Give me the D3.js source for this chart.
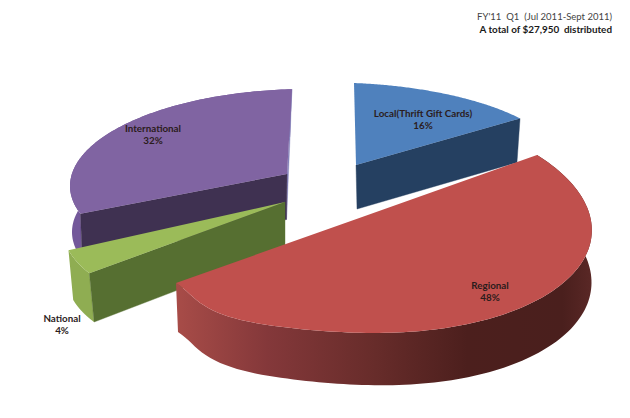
<!DOCTYPE html>
<html><head><meta charset="utf-8">
<script src="https://cdnjs.cloudflare.com/ajax/libs/d3/7.8.5/d3.min.js"></script>
<style>html,body{margin:0;padding:0;background:#fff}svg{display:block}</style></head>
<body><div id="chart"></div>
<script>
// data
const categories = ["Local (Thrift Gift Cards)", "Regional", "National", "International"];
const shortNames = ["Local(Thrift Gift Cards)", "Regional", "National", "International"];
const percents = [16, 48, 4, 32];
const titleLines = ["FY'11  Q1  (Jul 2011-Sept 2011)", "A total of $27,950  distributed"];

// per-slice projection of the pie disc (exploded, perspective-looking 3D pie).
// c/a/b: ellipse centre and conjugate axes; apex: where the slice tip lands;
// sweep: phase range on the ellipse that the pie's slice angle range is mapped to.
const PI = Math.PI;
const frames = [
  {sweep:[0,0.944],
   top:{apex:[356,165],c:[354,153],a:[205,8],b:[0,70]},
   bot:{apex:[357,209],c:[355,197],a:[200,8],b:[0,70]}},
  {sweep:[PI/2,3*PI/2], warp:{from:PI,to:3*PI/2,amount:-0.065,power:3},
   top:{apex:[356.5,219],c:[356.5,219],a:[180.5,-64],b:[151,94]},
   bot:{apex:[357,268],c:[357,268],a:[179,-64],b:[151.5,98]}},
  {sweep:null,
   top:{apex:[285,202],c:[285,202],a:[220,-1.5],b:[-41,110]},
   bot:{apex:[285,249],c:[285,249],a:[216,-5.6],b:[-38.4,107.8]}},
  {sweep:[4.41,6.248],
   top:{apex:[287,174],c:[300,183],a:[230,-3],b:[0,94]},
   bot:{apex:[286.5,219.5],c:[298,229],a:[226,-3],b:[0,92]}}
];
const looks = [
  {top:"#4f81bd", cutEnd:"#254061"},
  {top:"#c0504d", outer:"url(#redWall)"},
  {top:"#9bbb59", cutStart:"#566f31", outer:"#8fad52"},
  {top:"#8064a2", cutStart:"#3f3151", cutEnd:"#8583bb", outer:"#73589a"}
];
const labelAt = [[423,113],[490,285],[62,318],[153,128]];
const order = [3,0,2,1];

const W = 630, H = 418;
const svg = d3.select("#chart").append("svg").attr("width",W).attr("height",H);
const grad = svg.append("defs").append("linearGradient").attr("id","redWall")
  .attr("gradientUnits","userSpaceOnUse").attr("x1",176).attr("x2",592).attr("y1",0).attr("y2",0);
[[0,"#a84c48"],[0.22,"#84383a"],[0.48,"#672c2a"],[0.7,"#4c1f1d"],[0.93,"#4a1f1d"],[1,"#5a2826"]]
  .forEach(s=>grad.append("stop").attr("offset",s[0]).attr("stop-color",s[1]));

const arcs = d3.pie().sort(null).value(d=>d)(percents);
const line = d3.line();

function project(f, plane, d, frac){
  const p=f[plane];
  const t0=f.sweep?f.sweep[0]:d.startAngle, t1=f.sweep?f.sweep[1]:d.endAngle;
  const t=t0+(t1-t0)*frac;
  const ux=Math.sin(t), uy=-Math.cos(t);
  let m=1;
  if(f.warp && t>f.warp.from && t<f.warp.to){
    const x=(t-f.warp.from)/(f.warp.to-f.warp.from);
    const s=Math.sin(PI*Math.pow(x,f.warp.power));
    m=1-f.warp.amount*s*s;
  }
  return [p.c[0]+m*(p.a[0]*ux+p.b[0]*uy), p.c[1]+m*(p.a[1]*ux+p.b[1]*uy)];
}
const rim = (f,plane,d)=>d3.range(0,121).map(i=>project(f,plane,d,i/120));

order.forEach(i=>{
  const d=arcs[i], f=frames[i], s=looks[i];
  const g=svg.append("g").attr("class","slice").attr("data-name",categories[i]);
  const topRim=rim(f,"top",d), botRim=rim(f,"bot",d);
  const cut=(frac,col)=>g.append("path").attr("fill",col).attr("stroke",col).attr("stroke-width",0.4)
    .attr("d",line([f.top.apex,project(f,"top",d,frac),project(f,"bot",d,frac),f.bot.apex])+"Z");
  if(s.outer) g.append("path").attr("fill",s.outer).attr("d",line(topRim.concat(botRim.slice().reverse()))+"Z");
  if(s.cutEnd) cut(1,s.cutEnd);
  if(s.cutStart) cut(0,s.cutStart);
  g.append("path").attr("fill",s.top).attr("d",line([f.top.apex].concat(topRim))+"Z");
});

const font="Lato,'Liberation Sans',Arial,sans-serif";
shortNames.forEach((n,i)=>{
  const t=svg.append("text").attr("font-family",font).attr("font-size",9.8).attr("font-weight","bold")
    .attr("fill","#2b1c1c").attr("text-anchor","middle");
  t.append("tspan").attr("x",labelAt[i][0]).attr("y",labelAt[i][1]+3.5).text(n);
  t.append("tspan").attr("x",labelAt[i][0]).attr("y",labelAt[i][1]+15.5).text(percents[i]+"%");
});
svg.append("text").attr("x",612).attr("y",20).attr("text-anchor","end").attr("font-family",font)
  .attr("font-size",9.5).attr("fill","#444").style("white-space","pre").text(titleLines[0]);
svg.append("text").attr("x",612).attr("y",33).attr("text-anchor","end").attr("font-family",font)
  .attr("font-size",9.9).attr("font-weight","bold").attr("fill","#1a1a1a").style("white-space","pre").text(titleLines[1]);
</script></body></html>
